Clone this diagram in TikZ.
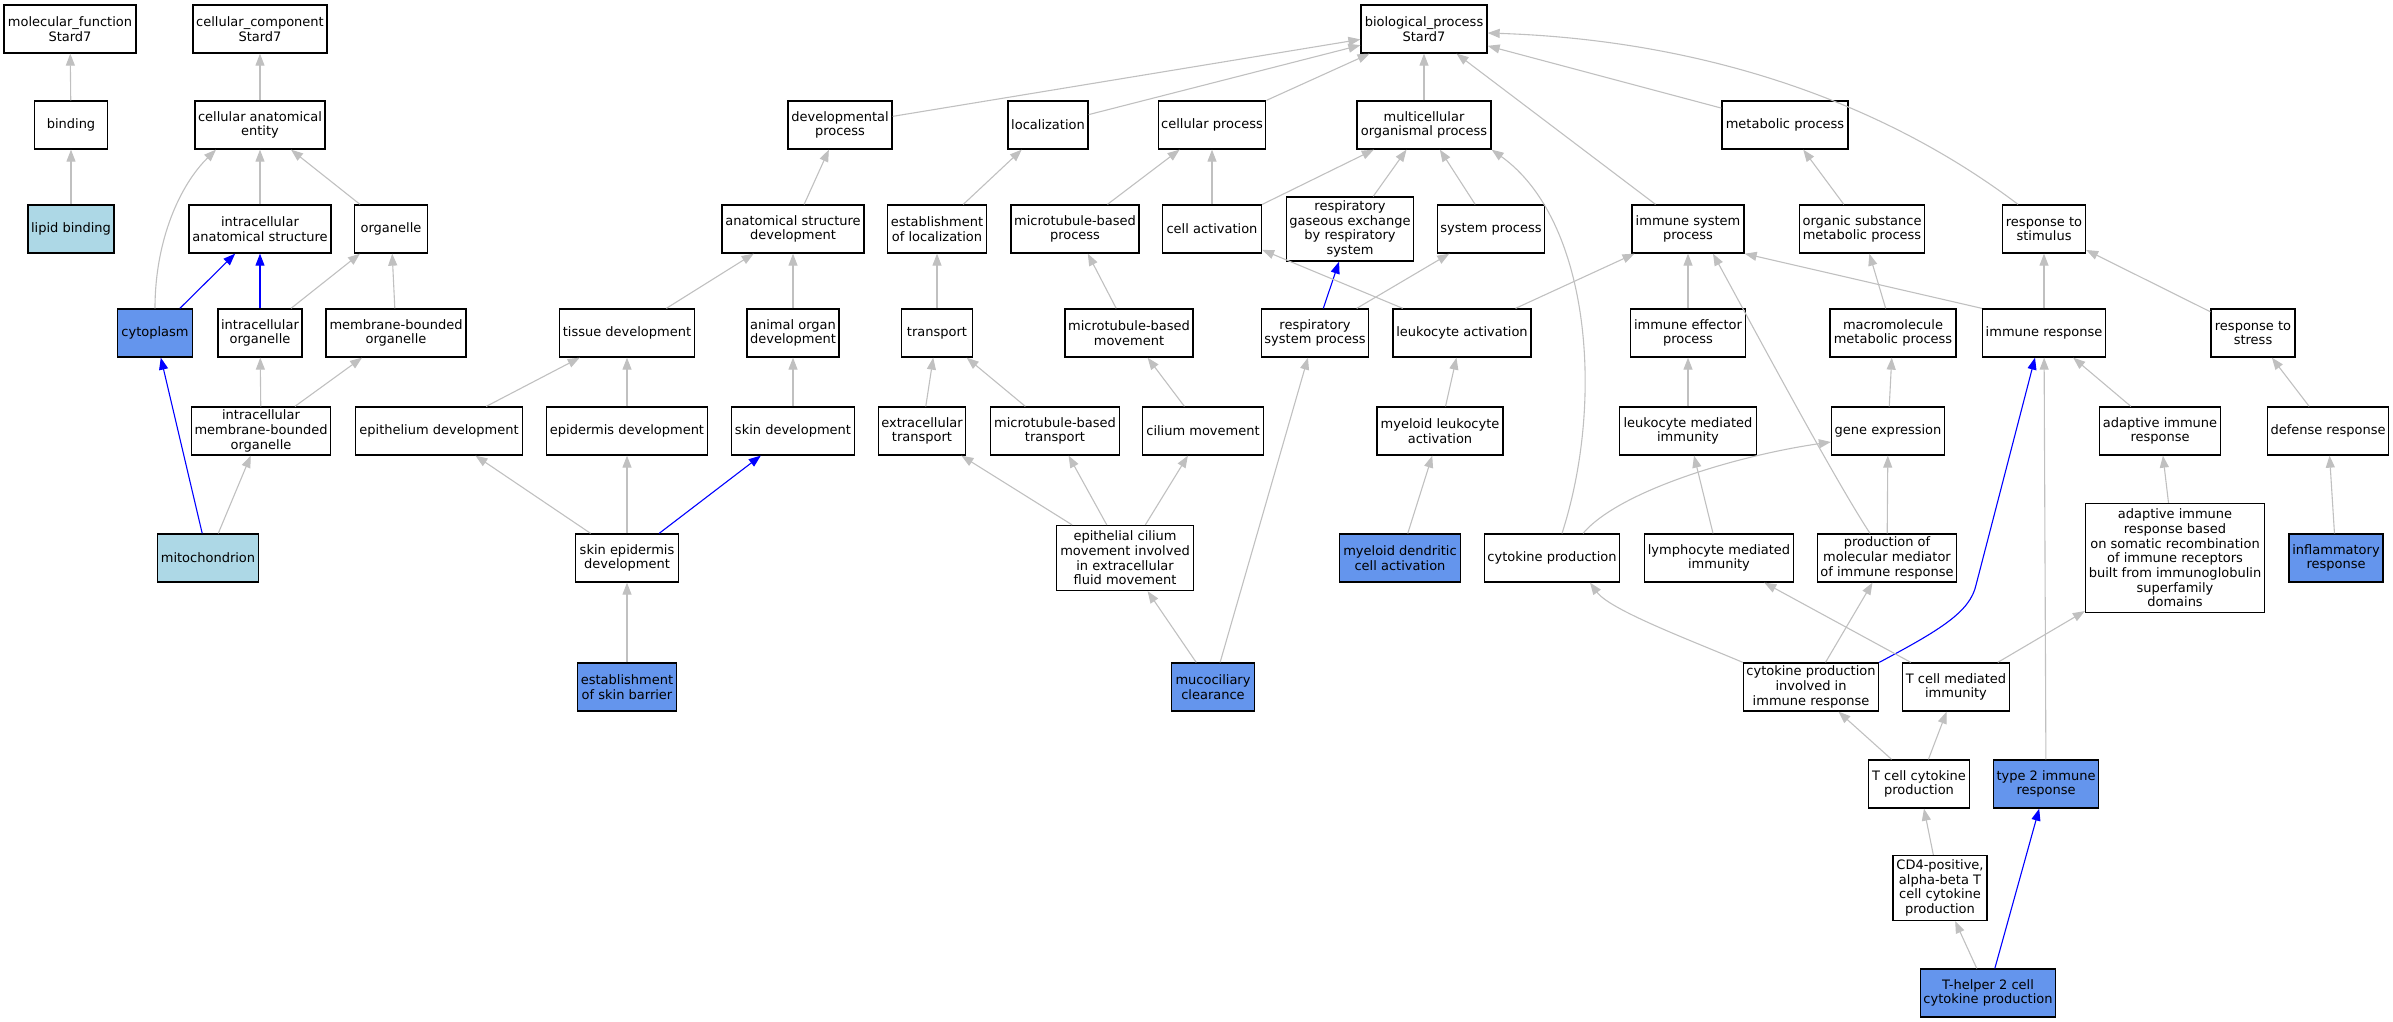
\documentclass[tikz,border=0pt]{standalone}
\usepackage{fontspec}
\setmainfont{DejaVu Sans}
\usetikzlibrary{arrows.meta}
\definecolor{edgegray}{HTML}{C0C0C0}
\definecolor{lightblu}{HTML}{ADD8E6}
\definecolor{cornblu}{HTML}{6495ED}
\begin{document}
\begin{tikzpicture}[x=1bp, y=-1bp,
		term/.style={draw, line width=1.3bp, fill=white, align=center, inner xsep=3bp, inner ysep=2bp,
			minimum width=72bp, minimum height=48bp, font=\fontsize{13bp}{14.7bp}\selectfont},
		wd/.style={minimum width=#1bp},
		ht/.style={minimum height=#1bp},
		leaf/.style={term, fill=lightblu},
		hit/.style={term, fill=cornblu},
		rel/.style={draw=edgegray, line width=1.1bp, -{Triangle[length=12bp, width=9bp]}},
		relhl/.style={rel, draw=blue}]
		\useasboundingbox (0,0) rectangle (2393,1021);

		\node[term, wd=132] (molfn) at (70,29) {molecular\_function\\Stard7};
		\node[term, wd=134] (cellcomp) at (260,29) {cellular\_component\\Stard7};
		\node[term, wd=126] (bioproc) at (1424,29) {biological\_process\\Stard7};

		\node[term, wd=73] (binding) at (71,125) {binding};
		\node[term, wd=130] (cae) at (260,125) {cellular anatomical\\entity};
		\node[term, wd=104] (devproc) at (840,125) {developmental\\process};
		\node[term, wd=80] (loc) at (1048,125) {localization};
		\node[term, wd=107] (cellproc) at (1212,125) {cellular process};
		\node[term, wd=134] (mcop) at (1424,125) {multicellular\\organismal process};
		\node[term, wd=126] (metproc) at (1785,125) {metabolic process};

		\node[leaf, wd=86] (lipid) at (71,229) {lipid binding};
		\node[term, wd=142] (ias) at (260,229) {intracellular\\anatomical structure};
		\node[term, wd=73] (organelle) at (391,229) {organelle};
		\node[term, wd=142] (asdev) at (793,229) {anatomical structure\\development};
		\node[term, wd=99] (estloc) at (937,229) {establishment\\of localization};
		\node[term, wd=128] (mtproc) at (1075,229) {microtubule-based\\process};
		\node[term, wd=99] (cellact) at (1212,229) {cell activation};
		\node[term, wd=125, ht=64] (gasex) at (1350,229) {respiratory\\gaseous exchange\\by respiratory\\system};
		\node[term, wd=107] (sysproc) at (1491,229) {system process};
		\node[term, wd=112] (imsys) at (1688,229) {immune system\\process};
		\node[term, wd=125] (osmp) at (1862,229) {organic substance\\metabolic process};
		\node[term, wd=83] (stim) at (2044,229) {response to\\stimulus};

		\node[hit, wd=75] (cyto) at (155,333) {cytoplasm};
		\node[term, wd=84] (icorg) at (260,333) {intracellular\\organelle};
		\node[term, wd=140] (mborg) at (396,333) {membrane-bounded\\organelle};
		\node[term, wd=135] (tissue) at (627,333) {tissue development};
		\node[term, wd=92] (organdev) at (793,333) {animal organ\\development};
		\node[term, wd=71] (transport) at (937,333) {transport};
		\node[term, wd=128] (mtmove) at (1129,333) {microtubule-based\\movement};
		\node[term, wd=107] (respsys) at (1315,333) {respiratory\\system process};
		\node[term, wd=138] (leuact) at (1462,333) {leukocyte activation};
		\node[term, wd=115] (imeff) at (1688,333) {immune effector\\process};
		\node[term, wd=126] (mmp) at (1893,333) {macromolecule\\metabolic process};
		\node[term, wd=123] (imresp) at (2044,333) {immune response};
		\node[term, wd=84] (stress) at (2253,333) {response to\\stress};

		\node[term, wd=139] (icmbo) at (261,431) {intracellular\\membrane-bounded\\organelle};
		\node[term, wd=167] (epith) at (439,431) {epithelium development};
		\node[term, wd=161] (epid) at (627,431) {epidermis development};
		\node[term, wd=123] (skindev) at (793,431) {skin development};
		\node[term, wd=87] (ectrans) at (922,431) {extracellular\\transport};
		\node[term, wd=129] (mttrans) at (1055,431) {microtubule-based\\transport};
		\node[term, wd=121] (cilium) at (1203,431) {cilium movement};
		\node[term, wd=126] (myeact) at (1440,431) {myeloid leukocyte\\activation};
		\node[term, wd=137] (leumed) at (1688,431) {leukocyte mediated\\immunity};
		\node[term, wd=113] (geneexp) at (1888,431) {gene expression};
		\node[term, wd=121] (adapt) at (2160,431) {adaptive immune\\response};
		\node[term, wd=121] (defense) at (2328,431) {defense response};

		\node[leaf, wd=100] (mito) at (208,558) {mitochondrion};
		\node[term, wd=103] (skinepid) at (627,558) {skin epidermis\\development};
		\node[term, wd=137, ht=65] (ciliumfl) at (1125,558) {epithelial cilium\\movement involved\\in extracellular\\fluid movement};
		\node[hit, wd=121] (mdcact) at (1400,558) {myeloid dendritic\\cell activation};
		\node[term, wd=134] (cytprod) at (1552,558) {cytokine production};
		\node[term, wd=149] (lymmed) at (1719,558) {lymphocyte mediated\\immunity};
		\node[term, wd=139] (molmed) at (1887,558) {production of\\molecular mediator\\of immune response};
		\node[term, wd=179, ht=109] (adaptsom) at (2175,558) {adaptive immune\\response based\\on somatic recombination\\of immune receptors\\built from immunoglobulin\\superfamily\\domains};
		\node[hit, wd=94] (inflam) at (2336,558) {inflammatory\\response};

		\node[hit, wd=99] (barrier) at (627,687) {establishment\\of skin barrier};
		\node[hit, wd=83] (mucocil) at (1213,687) {mucociliary\\clearance};
		\node[term, wd=134] (cytimm) at (1811,687) {cytokine production\\involved in\\immune response};
		\node[term, wd=106] (tcmed) at (1956,687) {T cell mediated\\immunity};

		\node[term, wd=101] (tccyt) at (1919,784) {T cell cytokine\\production};
		\node[hit, wd=105] (type2) at (2046,784) {type 2 immune\\response};
		\node[term, wd=94, ht=65] (cd4) at (1940,888) {CD4-positive,\\alpha-beta T\\cell cytokine\\production};
		\node[hit, wd=134] (th2) at (1988,993) {T-helper 2 cell\\cytokine production};

		\draw[rel] (binding) -- (molfn);
		\draw[rel] (lipid) -- (binding);
		\draw[rel] (cae) -- (cellcomp);
		\draw[rel] (ias) -- (cae);
		\draw[rel] (organelle) -- (cae);
		\draw[rel] (cyto.north) .. controls (155,240) and (180,185) .. ([xshift=-44bp]cae.south);
		\draw[relhl] (cyto) -- (ias);
		\draw[relhl] (icorg) -- (ias);
		\draw[rel] (icorg) -- (organelle);
		\draw[rel] (mborg) -- (organelle);
		\draw[rel] (icmbo) -- (icorg);
		\draw[rel] (icmbo) -- (mborg);
		\draw[relhl] (mito) -- (cyto);
		\draw[rel] (mito) -- (icmbo);

		\draw[rel] (devproc) -- (bioproc);
		\draw[rel] (loc) -- (bioproc);
		\draw[rel] (cellproc) -- (bioproc);
		\draw[rel] (mcop) -- (bioproc);
		\draw[rel] (imsys) -- (bioproc);
		\draw[rel] (metproc) -- (bioproc);
		\draw[rel] ([xshift=-26bp]stim.north) .. controls (1880,100) and (1700,40) .. ([yshift=-4bp]bioproc.east);

		\draw[rel] (asdev) -- (devproc);
		\draw[rel] (estloc) -- (loc);
		\draw[rel] (mtproc) -- (cellproc);
		\draw[rel] (cellact) -- (cellproc);
		\draw[rel] (cellact) -- (mcop);
		\draw[rel] (gasex) -- (mcop);
		\draw[rel] (sysproc) -- (mcop);
		\draw[rel] ([xshift=10bp]cytprod.north) .. controls (1605,400) and (1590,220) .. (mcop.south east);

		\draw[rel] (organdev) -- (asdev);
		\draw[rel] (tissue) -- (asdev);
		\draw[rel] (transport) -- (estloc);
		\draw[rel] (mtmove) -- (mtproc);
		\draw[relhl] (respsys) -- (gasex);
		\draw[rel] (respsys) -- (sysproc);
		\draw[rel] (leuact) -- (cellact);
		\draw[rel] (leuact) -- (imsys);

		\draw[rel] (skindev) -- (organdev);
		\draw[rel] (ectrans) -- (transport);
		\draw[rel] (mttrans) -- (transport);
		\draw[rel] (cilium) -- (mtmove);
		\draw[rel] (myeact) -- (leuact);
		\draw[rel] (epith) -- (tissue);
		\draw[rel] (epid) -- (tissue);
		\draw[rel] (skinepid) -- (epith);
		\draw[rel] (skinepid) -- (epid);
		\draw[relhl] (skinepid) -- (skindev);
		\draw[rel] (barrier) -- (skinepid);
		\draw[rel] (ciliumfl) -- (ectrans);
		\draw[rel] (ciliumfl) -- (mttrans);
		\draw[rel] (ciliumfl) -- (cilium);
		\draw[rel] (mucocil) -- (ciliumfl);
		\draw[rel] (mucocil) -- (respsys);
		\draw[rel] (mdcact) -- (myeact);

		\draw[rel] (osmp) -- (metproc);
		\draw[rel] (mmp) -- (osmp);
		\draw[rel] (geneexp) -- (mmp);
		\draw[rel] (imeff) -- (imsys);
		\draw[rel] (leumed) -- (imeff);
		\draw[rel] (imresp.north west) -- (imsys.south east);
		\draw[rel] (imresp) -- (stim);
		\draw[rel] (stress) -- (stim);
		\draw[rel] (defense) -- (stress);
		\draw[rel] (adapt) -- (imresp);
		\draw[rel] (inflam) -- (defense);
		\draw[rel] (adaptsom) -- (adapt);

		\draw[rel] ([xshift=31bp]cytprod.north) .. controls (1620,490) and (1740,455) .. ([yshift=-11bp]geneexp.west);
		\draw[rel] ([xshift=-17bp]molmed.north) .. controls (1835,480) and (1760,340) .. ([xshift=25bp]imsys.south);
		\draw[rel] (molmed) -- (geneexp);
		\draw[rel] (lymmed) -- (leumed);
		\draw[rel] (cytimm.north west) .. controls (1690,640) and (1610,610) .. ([xshift=38bp]cytprod.south);
		\draw[rel] (cytimm) -- (molmed);
		\draw[relhl] (cytimm.north east) .. controls (1940,630) and (1970,612) .. (1976,585) -- ([xshift=-9bp]imresp.south);
		\draw[rel] (tcmed) -- (lymmed);
		\draw[rel] (tcmed) -- (adaptsom);
		\draw[rel] (tccyt) -- (cytimm);
		\draw[rel] (tccyt) -- (tcmed);
		\draw[rel] (cd4) -- (tccyt);
		\draw[rel] (th2) -- (cd4);
		\draw[relhl] (th2) -- (type2);
		\draw[rel] (type2) -- (imresp);
	\end{tikzpicture}
\end{document}
